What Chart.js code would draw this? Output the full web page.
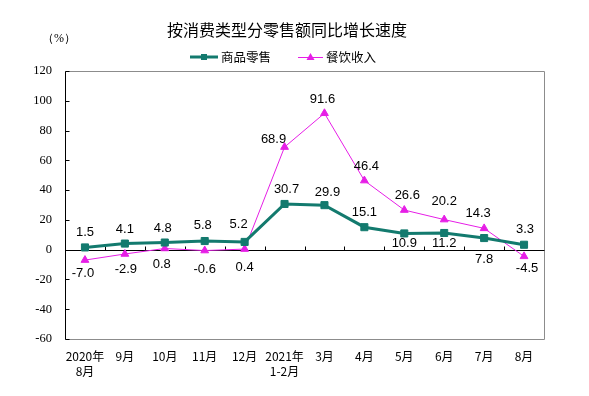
<!DOCTYPE html>
<html lang="zh">
<head>
    <meta charset="UTF-8">
    <title>按消费类型分零售额同比增长速度</title>
    <script src="https://cdn.jsdelivr.net/npm/chart.js"></script>
    <style>
        html, body { margin: 0; padding: 0; background: #fff; }
        #wrap { width: 589px; height: 396px; }
    </style>
</head>
<body>
    <div id="wrap"><canvas id="salesChart" width="589" height="396"></canvas></div>
    <script>
        // data
        const categories = [['2020年', '8月'], '9月', '10月', '11月', '12月', ['2021年', '1-2月'], '3月', '4月', '5月', '6月', '7月', '8月'];
        const retailValues = [1.5, 4.1, 4.8, 5.8, 5.2, 30.7, 29.9, 15.1, 10.9, 11.2, 7.8, 3.3];
        const cateringValues = [-7.0, -2.9, 0.8, -0.6, 0.4, 68.9, 91.6, 46.4, 26.6, 20.2, 14.3, -4.5];
        const yMin = -60, yMax = 120, yStep = 20;

        const teal = '#137a6e';
        const magenta = '#e61ee6';

        // where each value label sits relative to its point [dx, dy]
        const retailLabelShift = [[0, -15], [0, -14], [-2, -14], [-2, -16], [-6, -18], [2, -15], [3, -13], [0, -15], [0, 10], [0, 10], [0, 21], [1, -15]];
        const cateringLabelShift = [[-2, 13], [1, 15], [-3, 16], [0, 19], [0, 18], [-11, -8], [-2, -14], [2, -14], [3, -15], [0, -18], [-6, -15], [3, 12]];

        const frame = {
            id: 'frame',
            beforeDatasetsDraw(chart) {
                const { ctx, chartArea: a, scales: { x, y } } = chart;
                const L = Math.round(a.left) + 0.5, R = Math.round(a.right) + 0.5;
                const T = Math.round(a.top) + 0.5, B = Math.round(a.bottom) + 0.5;
                ctx.save();
                ctx.lineWidth = 1;
                ctx.strokeStyle = '#8c8c8c';
                ctx.beginPath();
                ctx.moveTo(L, T); ctx.lineTo(R, T); ctx.lineTo(R, B); ctx.lineTo(L, B);
                ctx.stroke();

                ctx.strokeStyle = '#000';
                ctx.beginPath();
                ctx.moveTo(L, T); ctx.lineTo(L, B);
                for (let v = yMin; v <= yMax; v += yStep) {
                    const py = Math.round(y.getPixelForValue(v)) + 0.5;
                    ctx.moveTo(L, py); ctx.lineTo(L + 4, py);
                }
                const zy = Math.round(y.getPixelForValue(0)) + 0.5;
                ctx.moveTo(L, zy); ctx.lineTo(R, zy);
                for (let i = 1; i < categories.length; i++) {
                    const bx = Math.round((x.getPixelForValue(i - 1) + x.getPixelForValue(i)) / 2) + 0.5;
                    ctx.moveTo(bx, zy); ctx.lineTo(bx, zy - 4);
                }
                ctx.stroke();
                ctx.restore();
            },
            afterDatasetsDraw(chart) {
                const { ctx } = chart;
                ctx.save();
                ctx.font = '13px "Liberation Sans", Arial, sans-serif';
                ctx.fillStyle = '#000';
                ctx.textAlign = 'center';
                ctx.textBaseline = 'middle';
                const shifts = [retailLabelShift, cateringLabelShift];
                chart.data.datasets.forEach((ds, di) => {
                    chart.getDatasetMeta(di).data.forEach((pt, i) => {
                        const s = shifts[di][i];
                        ctx.fillText(ds.data[i].toFixed(1), pt.x + s[0], pt.y + s[1]);
                    });
                });
                ctx.restore();
            },
            afterDraw(chart) {
                const { ctx } = chart;
                ctx.save();
                ctx.fillStyle = '#000';
                ctx.textBaseline = 'middle';
                ctx.textAlign = 'center';
                ctx.font = '16px "Noto Sans CJK SC", sans-serif';
                ctx.fillText('按消费类型分零售额同比增长速度', 287, 30);
                ctx.textAlign = 'left';
                ctx.font = '12px "Liberation Serif", serif';
                ctx.fillText('（%）', 42, 39);

                // legend
                ctx.font = '12.5px "Noto Sans CJK SC", sans-serif';
                ctx.strokeStyle = teal;
                ctx.lineWidth = 3;
                ctx.beginPath(); ctx.moveTo(190, 57); ctx.lineTo(218, 57); ctx.stroke();
                ctx.fillStyle = teal;
                ctx.fillRect(201, 54, 6, 6);
                ctx.fillStyle = '#000';
                ctx.fillText('商品零售', 221, 57);

                ctx.strokeStyle = magenta;
                ctx.lineWidth = 1;
                ctx.beginPath(); ctx.moveTo(298, 57.5); ctx.lineTo(323, 57.5); ctx.stroke();
                ctx.fillStyle = magenta;
                ctx.beginPath(); ctx.moveTo(310.5, 53); ctx.lineTo(314.5, 60); ctx.lineTo(306.5, 60); ctx.closePath(); ctx.fill();
                ctx.fillStyle = '#000';
                ctx.fillText('餐饮收入', 326, 57);
                ctx.restore();
            }
        };

        new Chart(document.getElementById('salesChart'), {
            type: 'line',
            data: {
                labels: categories,
                datasets: [{
                    label: '商品零售',
                    data: retailValues,
                    borderColor: teal,
                    backgroundColor: teal,
                    borderWidth: 3,
                    pointStyle: 'rect',
                    pointRadius: 5,
                    pointBorderWidth: 1,
                    tension: 0
                }, {
                    label: '餐饮收入',
                    data: cateringValues,
                    borderColor: magenta,
                    backgroundColor: magenta,
                    borderWidth: 1,
                    pointStyle: 'triangle',
                    pointRadius: 4.5,
                    pointBorderWidth: 1,
                    tension: 0
                }]
            },
            options: {
                responsive: false,
                animation: false,
                devicePixelRatio: 1,
                layout: { padding: { top: 71, right: 45, bottom: 0, left: 0 } },
                plugins: { legend: { display: false }, tooltip: { enabled: false } },
                scales: {
                    x: {
                        offset: true,
                        grid: { display: false, drawTicks: false },
                        border: { display: false },
                        ticks: {
                            autoSkip: false,
                            maxRotation: 0,
                            padding: 10,
                            color: '#000',
                            font: { family: '"Noto Sans CJK SC", sans-serif', size: 12, lineHeight: 1.25 }
                        },
                        afterFit: s => { s.height = 57; }
                    },
                    y: {
                        min: yMin,
                        max: yMax,
                        grid: { display: false, drawTicks: false },
                        border: { display: false },
                        ticks: {
                            stepSize: yStep,
                            padding: 13,
                            color: '#000',
                            font: { family: 'Liberation Serif', size: 12.5 }
                        },
                        afterFit: s => { s.width = 65; }
                    }
                }
            },
            plugins: [frame]
        });
    </script>
</body>
</html>
